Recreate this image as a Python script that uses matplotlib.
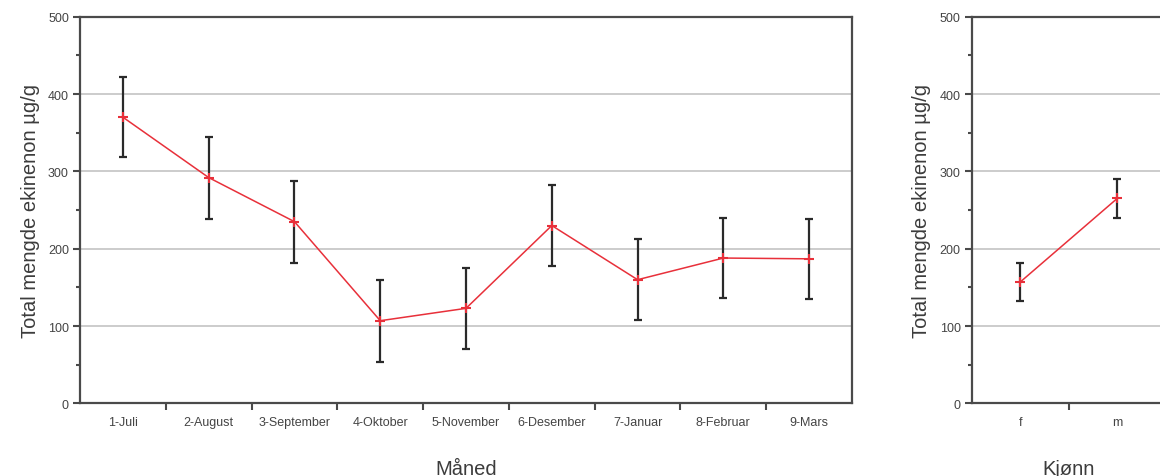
import matplotlib.pyplot as plt
import numpy as np

plt.rcParams['font.family'] = ['Liberation Sans', 'DejaVu Sans']

# monthly means and errors
months = ['1-Juli', '2-August', '3-September', '4-Oktober', '5-November',
          '6-Desember', '7-Januar', '8-Februar', '9-Mars']
month_mean = [370, 292, 235, 107, 123, 230, 160, 188, 187]
month_err = [52, 53, 53, 53, 52, 52, 52, 52, 52]

# by sex
sexes = ['f', 'm']
sex_mean = [157, 265]
sex_err = [25, 25]

ylabel = 'Total mengde ekinenon µg/g'
line_col = '#e8303a'
text_col = '#3c3c3c'
spine_col = '#4a4a4a'

fig = plt.figure(figsize=(11.6, 4.77), dpi=100)
ax1 = fig.add_axes([0.069, 0.152, 0.6655, 0.811])
ax2 = fig.add_axes([0.8377, 0.152, 0.1672, 0.811])


def style(ax, cats, mean, err, xlabel):
    x = np.arange(1, len(cats) + 1)
    ax.errorbar(x, mean, yerr=err, fmt='none', ecolor='#2a2a2a',
                elinewidth=1.6, capsize=3, capthick=1.6, zorder=3)
    ax.plot(x, mean, color=line_col, lw=1.1, marker='+', ms=7, mew=1.5,
            zorder=4)
    ax.set_xlim(0.5, len(cats) + 0.5)
    ax.set_ylim(0, 500)
    ax.set_xticks(x)
    ax.set_xticklabels(cats)
    ax.set_xticks(np.arange(1.5, len(cats)), minor=True)
    ax.set_yticks([0, 100, 200, 300, 400, 500])
    ax.set_yticks([50, 150, 250, 350, 450], minor=True)
    ax.tick_params(axis='x', which='major', length=0, pad=9,
                   labelsize=9, labelcolor='#444444')
    ax.tick_params(axis='x', which='minor', length=5, width=1.5,
                   color=spine_col, direction='out')
    ax.tick_params(axis='y', which='major', length=5, width=1.5,
                   color=spine_col, labelsize=9, labelcolor='#444444', pad=3)
    ax.tick_params(axis='y', which='minor', length=3, width=1.5,
                   color=spine_col)
    for y in [100, 200, 300, 400]:
        ax.axhline(y, color='#c4c4c4', lw=1.2, zorder=1)
    for s in ax.spines.values():
        s.set_color(spine_col)
        s.set_linewidth(1.6)
    ax.set_ylabel(ylabel, fontsize=14.5, color=text_col, labelpad=6)
    ax.set_xlabel(xlabel, fontsize=14.5, color=text_col, labelpad=22)


style(ax1, months, month_mean, month_err, 'Måned')
style(ax2, sexes, sex_mean, sex_err, 'Kjønn')

fig.savefig('out.png', dpi=100)
